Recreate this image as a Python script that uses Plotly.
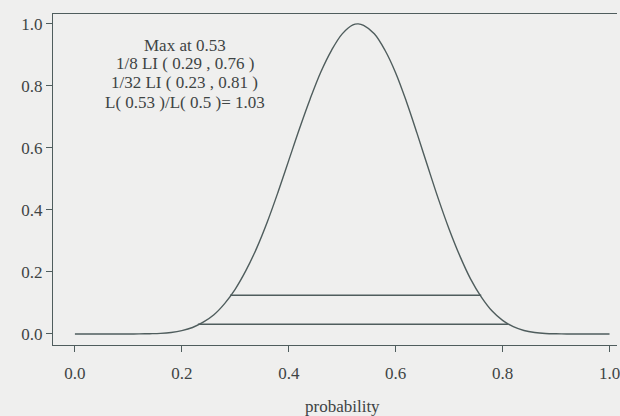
import plotly.graph_objects as go

# curve readings (probability, relative likelihood)
prob = [0.00, 0.02, 0.04, 0.06, 0.08, 0.10, 0.12, 0.14, 0.16, 0.18, 0.20, 0.22, 0.24,
        0.26, 0.28, 0.30, 0.32, 0.34, 0.36, 0.38, 0.40, 0.42, 0.44, 0.46, 0.48, 0.50,
        0.52, 0.53, 0.54, 0.56, 0.58, 0.60, 0.62, 0.64, 0.66, 0.68, 0.70, 0.72, 0.74, 0.76,
        0.78, 0.80, 0.82, 0.84, 0.86, 0.88, 0.90, 0.92, 0.94, 0.96, 0.98, 1.00]
lik = [0.0, 0.0, 0.0, 0.0, 0.0, 0.0001, 0.0003, 0.0009, 0.002, 0.005, 0.011, 0.021, 0.038,
       0.062, 0.098, 0.145, 0.205, 0.277, 0.362, 0.458, 0.56, 0.662, 0.758, 0.845, 0.915, 0.968,
       0.997, 1.0, 0.995, 0.968, 0.915, 0.842, 0.75, 0.647, 0.54, 0.435, 0.338, 0.252, 0.178, 0.12,
       0.075, 0.044, 0.0235, 0.0114, 0.005, 0.0018, 0.0007, 0.0002, 0.0, 0.0, 0.0, 0.0]

li8 = [0.29, 0.76]
li8_level = 1 / 8
li32 = [0.23, 0.81]
li32_level = 1 / 32

info_lines = ["Max at 0.53", "1/8 LI ( 0.29 , 0.76 )", "1/32 LI ( 0.23 , 0.81 )",
              "L( 0.53 )/L( 0.5 )= 1.03"]
info_y = [0.932, 0.871, 0.810, 0.748]
x_ticks = [0.0, 0.2, 0.4, 0.6, 0.8, 1.0]
y_ticks = [0.0, 0.2, 0.4, 0.6, 0.8, 1.0]

LINE = "#4f5d5d"
TXT = "#3e4444"
BG = "#efefee"
FONT = "Liberation Serif"

fig = go.Figure()
fig.add_trace(go.Scatter(x=prob, y=lik, mode="lines", line=dict(color=LINE, width=1.4, shape="spline", smoothing=1.0),
                         showlegend=False, hoverinfo="skip"))
fig.add_trace(go.Scatter(x=li8, y=[li8_level] * 2, mode="lines", line=dict(color=LINE, width=1.4),
                         showlegend=False, hoverinfo="skip"))
fig.add_trace(go.Scatter(x=li32, y=[li32_level] * 2, mode="lines", line=dict(color=LINE, width=1.4),
                         showlegend=False, hoverinfo="skip"))

for txt, yy in zip(info_lines, info_y):
    fig.add_annotation(x=0.205, y=yy, xref="x", yref="y", text=txt, yanchor="middle",
                       showarrow=False, align="center", font=dict(family=FONT, size=17, color=TXT))
fig.add_annotation(x=0.5, y=-0.187, xref="x", yref="paper", text="probability", showarrow=False,
                   yanchor="middle", font=dict(family=FONT, size=17, color=TXT))

fig.update_layout(
    width=620, height=416,
    margin=dict(l=53, r=0, t=14, b=71),
    paper_bgcolor=BG, plot_bgcolor=BG,
    font=dict(family=FONT, size=17, color=TXT),
    xaxis=dict(range=[-0.041, 1.014], tickvals=x_ticks, ticktext=[f"{v:.1f}" for v in x_ticks],
               showgrid=False, zeroline=False, showline=True, mirror=True, linecolor=LINE, linewidth=1.4,
               ticks="outside", ticklen=6, tickcolor=LINE, tickwidth=1.2, ticklabelstandoff=6,
               ticklabeloverflow="allow"),
    yaxis=dict(range=[-0.0355, 1.032], tickvals=y_ticks, ticktext=[f"{v:.1f}" for v in y_ticks],
               showgrid=False, zeroline=False, showline=True, linecolor=LINE, linewidth=1.4,
               ticks="outside", ticklen=6, tickcolor=LINE, tickwidth=1.2),
)

fig.write_html("out.html")
